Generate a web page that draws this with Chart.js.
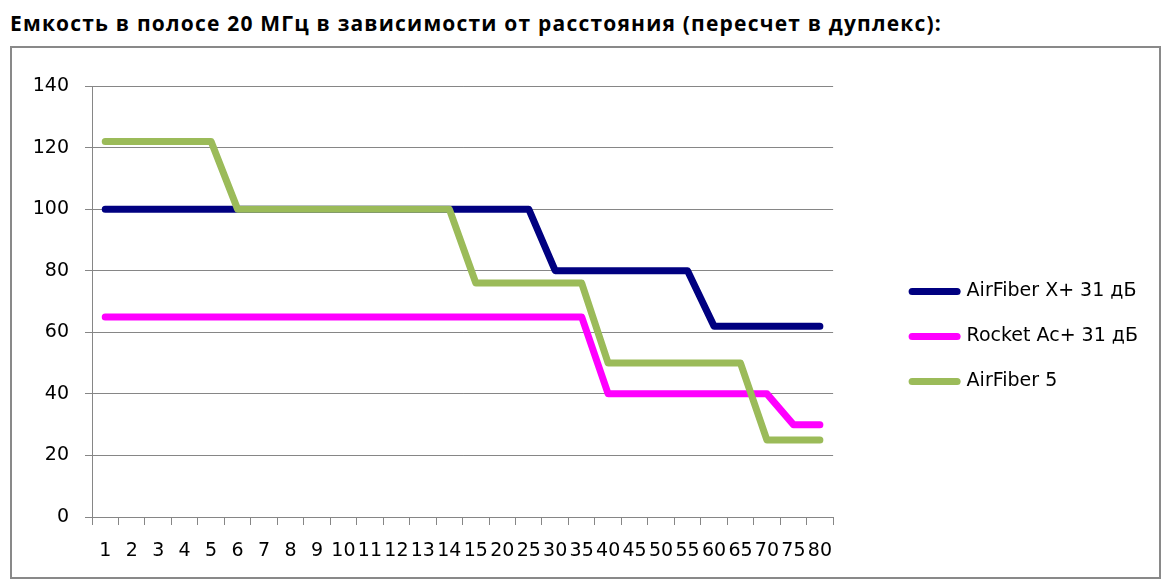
<!DOCTYPE html>
<html>
<head>
<meta charset="utf-8">
<script src="https://cdn.jsdelivr.net/npm/chart.js@4.4.1/dist/chart.umd.min.js"></script>
<style>
  html, body { margin: 0; padding: 0; background: #ffffff; width: 1175px; height: 587px; overflow: hidden; }
  #title { position: absolute; left: 10px; top: 9px; font-family: "Open Sans", sans-serif; font-weight: bold; font-size: 21px; letter-spacing: 1.2px; line-height: normal; color: #000; white-space: nowrap; }
  #frame { position: absolute; left: 10px; top: 46px; width: 1147px; height: 529px; border: 2px solid #898989; }
  #wrap { position: absolute; left: 0; top: 0; width: 1175px; height: 587px; }
</style>
</head>
<body>
<div id="title">Емкость в полосе 20 МГц в зависимости от расстояния (пересчет в дуплекс):</div>
<div id="frame"></div>
<div id="wrap"><canvas id="c"></canvas></div>
<script>
const categories = ['1','2','3','4','5','6','7','8','9','10','11','12','13','14','15','20','25','30','35','40','45','50','55','60','65','70','75','80'];
const seriesNames = ['AirFiber X+ 31 дБ', 'Rocket Ac+ 31 дБ', 'AirFiber 5'];
const seriesColors = ['#000080', '#FF00FF', '#9BBB59'];
const airFiberXValues = [100,100,100,100,100,100,100,100,100,100,100,100,100,100,100,100,100,80,80,80,80,80,80,62,62,62,62,62];
const rocketAcValues  = [65,65,65,65,65,65,65,65,65,65,65,65,65,65,65,65,65,65,65,40,40,40,40,40,40,40,30,30];
const airFiber5Values = [122,122,122,122,122,100,100,100,100,100,100,100,100,100,76,76,76,76,76,50,50,50,50,50,50,25,25,25];
const yTicks = { min: 0, max: 140, step: 20 };

const tickFont = { family: 'DejaVu Sans', size: 19 };
const gridColor = '#868686';
const seriesValues = [airFiberXValues, rocketAcValues, airFiber5Values];
const drawOrder = [2, 1, 0];

const datasets = seriesNames.map((name, i) => ({
  label: name,
  data: seriesValues[i],
  borderColor: seriesColors[i],
  backgroundColor: seriesColors[i],
  borderWidth: 7,
  borderCapStyle: 'round',
  borderJoinStyle: 'round',
  pointRadius: 0,
  pointHoverRadius: 0,
  tension: 0,
  fill: false,
  order: drawOrder[i]
}));

// gap between plot area and legend (layout only)
const legendGap = {
  id: 'legendGap',
  afterLayout(chart) {
    const lg = chart.legend;
    if (lg) { lg.left += 53; lg.right += 53; }
  }
};

new Chart(document.getElementById('c'), {
  type: 'line',
  data: { labels: categories, datasets: datasets },
  plugins: [legendGap],
  options: {
    responsive: true,
    maintainAspectRatio: false,
    animation: false,
    devicePixelRatio: 1,
    layout: { padding: { left: 0, top: 86, right: 80, bottom: 0 } },
    plugins: {
      title: { display: false },
      tooltip: { enabled: false },
      legend: {
        display: true,
        position: 'right',
        align: 'center',
        labels: {
          usePointStyle: true,
          pointStyle: 'line',
          pointStyleWidth: 45,
          padding: 26,
          color: '#000',
          font: { family: 'DejaVu Sans', size: 19 },
          sort: (a, b) => a.datasetIndex - b.datasetIndex,
          generateLabels: chart => Chart.defaults.plugins.legend.labels.generateLabels(chart)
            .map(item => Object.assign(item, { lineCap: 'round', lineWidth: 7 }))
        }
      }
    },
    scales: {
      x: {
        offset: true,
        grid: { offset: true, drawOnChartArea: false, color: gridColor, tickLength: 8, lineWidth: 1 },
        border: { display: true, color: gridColor, width: 1 },
        ticks: { autoSkip: false, maxRotation: 0, minRotation: 0, padding: 15, color: '#000', font: tickFont },
        afterFit: s => { s.height = 70; }
      },
      y: {
        min: yTicks.min,
        max: yTicks.max,
        grid: { color: gridColor, tickLength: 7, lineWidth: 1 },
        border: { display: true, color: gridColor, width: 1 },
        ticks: { stepSize: yTicks.step, padding: 16, color: '#000', font: tickFont },
        afterFit: s => { s.width = 92; }
      }
    }
  }
});
</script>
</body>
</html>
